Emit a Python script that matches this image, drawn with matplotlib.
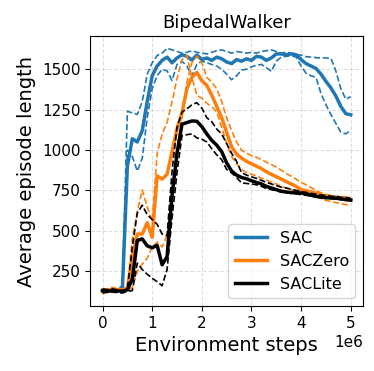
import numpy as np
import matplotlib
matplotlib.use("Agg")
import matplotlib.pyplot as plt

# environment steps (x grid, every 1e5 steps)
steps = np.arange(51) * 1e5

sac_mean = [130, 135, 130, 135, 140, 900, 1070, 1050, 1120, 1300,
            1460, 1520, 1555, 1575, 1540, 1570, 1590, 1580, 1557, 1588,
            1560, 1570, 1555, 1575, 1565, 1545, 1535, 1560, 1550, 1565,
            1555, 1580, 1575, 1555, 1570, 1595, 1595, 1590, 1595, 1590,
            1560, 1535, 1520, 1505, 1470, 1425, 1385, 1335, 1270, 1225, 1218]
sac_hi = [135, 140, 135, 140, 160, 1240, 1230, 1220, 1300, 1470,
          1540, 1585, 1600, 1630, 1620, 1610, 1600, 1605, 1615, 1605,
          1600, 1595, 1605, 1615, 1620, 1610, 1600, 1610, 1605, 1600,
          1605, 1600, 1610, 1615, 1620, 1610, 1600, 1605, 1600, 1590,
          1588, 1578, 1575, 1572, 1570, 1570, 1568, 1490, 1380, 1315, 1330]
sac_lo = [125, 125, 120, 125, 130, 1000, 960, 870, 950, 1200,
          1380, 1460, 1500, 1490, 1430, 1530, 1550, 1520, 1460, 1530,
          1550, 1540, 1530, 1520, 1500, 1470, 1435, 1460, 1495, 1500,
          1515, 1525, 1530, 1510, 1487, 1550, 1575, 1580, 1585, 1575,
          1520, 1475, 1460, 1450, 1350, 1280, 1220, 1165, 1110, 1100, 1123]

zero_mean = [125, 130, 140, 135, 135, 145, 330, 480, 480, 550,
             460, 840, 820, 850, 990, 1130, 1230, 1380, 1450, 1480,
             1430, 1400, 1340, 1270, 1200, 1110, 1020, 975, 950, 930,
             915, 900, 885, 865, 850, 835, 820, 805, 790, 775,
             755, 748, 740, 733, 722, 712, 707, 703, 698, 693, 690]
zero_a = [135, 140, 150, 140, 140, 150, 450, 620, 753, 647,
          560, 980, 1100, 1170, 1300, 1440, 1560, 1585, 1450, 1340,
          1320, 1290, 1268, 1236, 1140, 1040, 960, 915, 880, 860,
          850, 840, 825, 815, 800, 790, 775, 765, 755, 745,
          738, 732, 725, 715, 700, 688, 682, 675, 668, 662, 659]
zero_b = [110, 120, 130, 125, 125, 130, 150, 250, 294, 330,
          400, 430, 400, 470, 700, 1000, 1200, 1420, 1540, 1580,
          1540, 1450, 1420, 1380, 1300, 1200, 1120, 1050, 1000, 980,
          966, 955, 941, 925, 910, 895, 875, 855, 838, 820,
          800, 785, 768, 750, 735, 725, 720, 715, 712, 710, 708]

lite_mean = [130, 125, 130, 128, 125, 135, 200, 440, 450, 407,
             395, 410, 290, 340, 720, 980, 1160, 1170, 1180, 1178,
             1145, 1100, 1060, 1030, 990, 920, 870, 845, 830, 822,
             810, 800, 790, 775, 765, 755, 745, 740, 737, 735,
             734, 728, 720, 713, 708, 705, 703, 702, 698, 693, 690]
lite_hi = [140, 135, 140, 135, 130, 140, 400, 610, 658, 600,
           570, 540, 480, 470, 870, 1140, 1235, 1255, 1280, 1293,
           1260, 1200, 1175, 1130, 1100, 1040, 980, 930, 860, 845,
           834, 825, 812, 800, 790, 780, 770, 765, 757, 750,
           742, 738, 732, 727, 722, 718, 715, 712, 708, 705, 703]
lite_lo = [115, 120, 120, 118, 115, 125, 130, 300, 260, 231,
           206, 185, 160, 260, 580, 860, 1090, 1095, 1100, 1075,
           1067, 1050, 1008, 970, 940, 880, 859, 830, 797, 793,
           790, 785, 775, 762, 755, 748, 740, 735, 732, 728,
           724, 720, 715, 711, 709, 705, 700, 697, 694, 691, 688]

series = [
    ("SAC", "tab:blue", sac_mean, sac_hi, sac_lo),
    ("SACZero", "tab:orange", zero_mean, zero_a, zero_b),
    ("SACLite", "black", lite_mean, lite_hi, lite_lo),
]

fig, ax = plt.subplots(figsize=(3.74, 3.71), dpi=100)
fig.subplots_adjust(left=0.241, right=0.971, bottom=0.175, top=0.903)

for name, color, mean, hi, lo in series:
    ax.plot(steps, mean, color=color, linewidth=2.5, label=name)
    ax.plot(steps, hi, color=color, linewidth=1.2, linestyle="--")
    ax.plot(steps, lo, color=color, linewidth=1.2, linestyle="--")

ax.set_title("BipedalWalker", fontsize=13)
ax.set_xlabel("Environment steps", fontsize=14)
ax.set_ylabel("Average episode length", fontsize=14)
ax.tick_params(labelsize=11)
ax.xaxis.get_offset_text().set_fontsize(11)
ax.set_xticks([0, 1e6, 2e6, 3e6, 4e6, 5e6])
ax.set_yticks([250, 500, 750, 1000, 1250, 1500])
ax.grid(True, linestyle="--", alpha=0.4)
ax.legend(loc="lower right", fontsize=11.5)

fig.savefig("out.png", dpi=100)
